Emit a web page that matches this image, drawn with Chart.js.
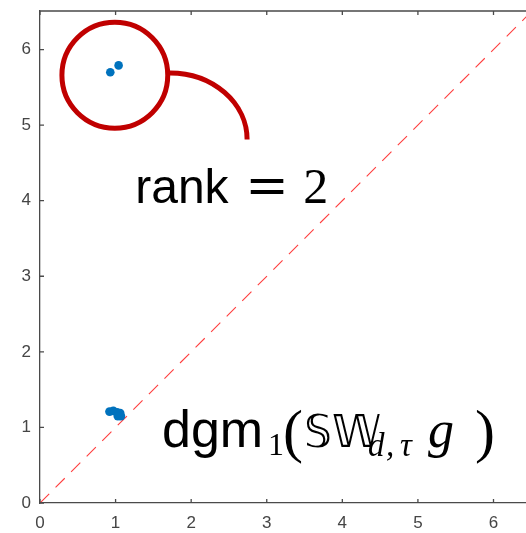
<!DOCTYPE html>
<html>
<head>
<meta charset="utf-8">
<script src="https://cdn.jsdelivr.net/npm/chart.js@4/dist/chart.umd.min.js"></script>
<style>
  html, body { margin: 0; padding: 0; background: #fff; overflow: hidden; }
  #wrap { width: 526px; height: 533px; }
</style>
</head>
<body>
<div id="wrap"><canvas id="dgm" width="526" height="533"></canvas></div>
<script>
// Persistence diagram (birth, death) pairs
const highPairBirth = [0.93, 1.04];
const highPairDeath = [5.70, 5.79];
const clusterBirth = [0.92, 0.97, 1.02, 1.06, 1.07, 1.03];
const clusterDeath = [1.21, 1.22, 1.20, 1.19, 1.15, 1.15];
const tickValues = [0, 1, 2, 3, 4, 5, 6];
const diagonalEnds = [0, 6.6];
const axisMaxX = 6.43;
const axisMaxY = 6.51;

const ringColor = '#c00000';
const axisColor = '#4a4a4a';
const tickColor = '#454545';

function toPoints(xs, ys) { return xs.map((x, i) => ({ x: x, y: ys[i] })); }

// draws a sequence of text runs starting at (x0, y0) baseline
function drawRuns(ctx, x0, y0, runs) {
  ctx.save();
  ctx.fillStyle = '#000';
  ctx.textBaseline = 'alphabetic';
  ctx.textAlign = 'left';
  runs.forEach(r => {
    ctx.font = r.font;
    ctx.fillText(r.text, x0 + r.dx, y0 + (r.dy || 0));
  });
  ctx.restore();
}

const decor = {
  id: 'decor',
  afterDatasetsDraw(chart) {
    const ctx = chart.ctx;
    const xs = chart.scales.x, ys = chart.scales.y;
    const px = v => xs.getPixelForValue(v);
    const py = v => ys.getPixelForValue(v);

    // ring around the two high-persistence points
    const cx = px(0.99), cy = py(5.66);
    const r = px(0.99 + 0.70) - cx;
    ctx.save();
    ctx.strokeStyle = ringColor;
    ctx.lineWidth = 5;
    ctx.beginPath();
    ctx.arc(cx, cy, r, 0, Math.PI * 2);
    ctx.stroke();

    // pointer from the ring down toward the label
    const ex = px(1.72), ey = py(4.81);
    const rx = px(2.74) - ex, ry = ey - py(5.69);
    ctx.lineCap = 'butt';
    ctx.beginPath();
    ctx.ellipse(ex, ey, rx, ry, 0, -Math.PI / 2, 0);
    ctx.stroke();
    ctx.restore();

    // labels
    drawRuns(ctx, px(1.26), py(3.97), [
      { text: 'rank', font: '48px "Liberation Sans"', dx: 0 },
      { text: '=', font: '52px "DejaVu Serif"', dx: 110 },
      { text: '2', font: '50px "Liberation Serif"', dx: 168 }
    ]);
    drawRuns(ctx, px(1.614), py(0.74), [
      { text: 'dgm', font: '52px "Liberation Sans"', dx: 0 },
      { text: '1', font: '32px "Liberation Serif"', dx: 106, dy: 8 },
      { text: '(', font: '60px "Liberation Serif"', dx: 121, dy: 4 },
      { text: '\u{1D54A}\u{1D54E}', font: '44px "DejaVu Sans"', dx: 142 },
      { text: 'd', font: 'italic 33px "Liberation Serif"', dx: 206, dy: 9 },
      { text: ',', font: 'italic 33px "Liberation Serif"', dx: 224, dy: 9 },
      { text: '\u03C4', font: 'italic 33px "Liberation Serif"', dx: 238, dy: 9 },
      { text: 'g', font: 'italic 52px "Liberation Serif"', dx: 266 },
      { text: ')', font: '60px "Liberation Serif"', dx: 313, dy: 4 }
    ]);
  },
  afterDraw(chart) {
    const ctx = chart.ctx;
    const xs = chart.scales.x, ys = chart.scales.y;
    const a = chart.chartArea;
    ctx.save();
    ctx.strokeStyle = axisColor;
    ctx.lineWidth = 1.3;
    ctx.beginPath();
    ctx.moveTo(a.left, a.top);
    ctx.lineTo(a.right, a.top);
    // inward tick marks on bottom, top and left edges
    tickValues.forEach(v => {
      const x = xs.getPixelForValue(v);
      ctx.moveTo(x, a.bottom); ctx.lineTo(x, a.bottom - 4);
      ctx.moveTo(x, a.top); ctx.lineTo(x, a.top + 4);
      const y = ys.getPixelForValue(v);
      ctx.moveTo(a.left, y); ctx.lineTo(a.left + 4, y);
    });
    ctx.stroke();
    ctx.restore();
  }
};

const fixedTicks = s => { s.ticks = tickValues.map(v => ({ value: v })); };
const zeroPad = s => { s.paddingLeft = 0; s.paddingRight = 0; s.paddingTop = 0; s.paddingBottom = 0; };

new Chart(document.getElementById('dgm'), {
  type: 'scatter',
  data: {
    datasets: [
      {
        label: 'high',
        data: toPoints(highPairBirth, highPairDeath),
        backgroundColor: '#0072bd',
        borderWidth: 0,
        pointRadius: 4.3
      },
      {
        label: 'cluster',
        data: toPoints(clusterBirth, clusterDeath),
        backgroundColor: '#0072bd',
        borderWidth: 0,
        pointRadius: 4.4
      },
      {
        type: 'line',
        label: 'diagonal',
        data: toPoints(diagonalEnds, diagonalEnds),
        borderColor: 'rgba(255,40,40,0.9)',
        borderWidth: 1.1,
        borderDash: [13, 9],
        pointRadius: 0,
        fill: false
      }
    ]
  },
  options: {
    responsive: false,
    devicePixelRatio: 1,
    animation: false,
    layout: { autoPadding: false, padding: { top: 11, right: 0, left: 0, bottom: 0 } },
    plugins: { legend: { display: false }, tooltip: { enabled: false } },
    scales: {
      x: {
        type: 'linear',
        min: 0, max: axisMaxX,
        afterBuildTicks: fixedTicks,
        afterFit: s => { s.height = 30; zeroPad(s); },
        grid: { display: false, drawTicks: false },
        border: { display: true, color: axisColor, width: 1.3 },
        ticks: { padding: 10, color: tickColor, font: { family: 'Liberation Sans', size: 17 } }
      },
      y: {
        type: 'linear',
        min: 0, max: axisMaxY,
        afterBuildTicks: fixedTicks,
        afterFit: s => { s.width = 40; zeroPad(s); },
        grid: { display: false, drawTicks: false },
        border: { display: true, color: axisColor, width: 1.3 },
        ticks: { padding: 9, color: tickColor, font: { family: 'Liberation Sans', size: 17 } }
      }
    }
  },
  plugins: [decor]
});
</script>
</body>
</html>
